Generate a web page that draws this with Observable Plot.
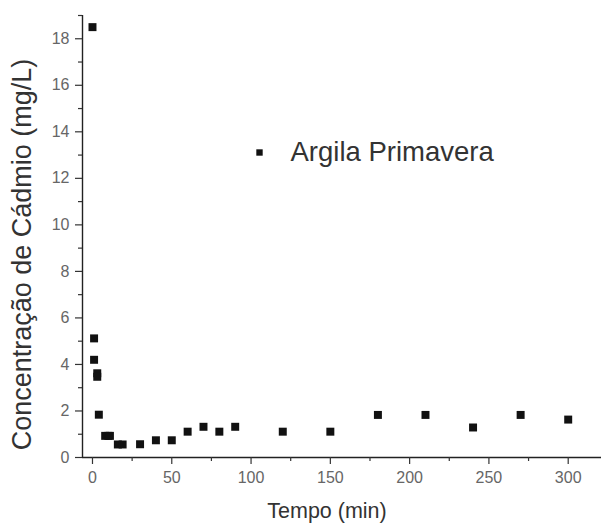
<!DOCTYPE html>
<html>
<head>
<meta charset="utf-8">
<script src="https://cdn.jsdelivr.net/npm/d3@7"></script>
<script src="https://cdn.jsdelivr.net/npm/@observablehq/plot@0.6"></script>
<style>
  html, body { margin: 0; padding: 0; background: #fff; }
  svg { display: block; }
</style>
</head>
<body>
<div id="chart"></div>
<script>
// Data
const tempo = [0, 1, 1, 3, 3, 4, 8, 10, 11, 16, 19, 30, 40, 50, 60, 70, 80, 90, 120, 150, 180, 210, 240, 270, 300];
const concentracao = [18.5, 5.12, 4.2, 3.62, 3.47, 1.84, 0.93, 0.93, 0.93, 0.56, 0.56, 0.57, 0.74, 0.74, 1.11, 1.32, 1.11, 1.32, 1.11, 1.11, 1.83, 1.83, 1.29, 1.83, 1.63];
const xMajorTicks = [0, 50, 100, 150, 200, 250, 300];
const xMinorTicks = [25, 75, 125, 175, 225, 275];
const yMajorTicks = [0, 2, 4, 6, 8, 10, 12, 14, 16, 18];
const yMinorTicks = [1, 3, 5, 7, 9, 11, 13, 15, 17, 19];
const xTitle = "Tempo (min)";
const yTitle = "Concentração de Cádmio (mg/L)";
const seriesName = "Argila Primavera";

const data = tempo.map((t, i) => ({t, c: concentracao[i]}));
const xMin = -6.3, xMax = 321, yMin = 0, yMax = 19;

const chart = Plot.plot({
  width: 601,
  height: 527,
  marginLeft: 82,
  marginRight: 0,
  marginTop: 15,
  marginBottom: 70,
  style: {fontFamily: "'Liberation Sans', Arial, sans-serif", background: "#fff"},
  x: {domain: [xMin, xMax]},
  y: {domain: [yMin, yMax]},
  marks: [
    // axis lines
    Plot.ruleY([yMin], {stroke: "#222", strokeWidth: 1.4}),
    Plot.ruleX([xMin], {stroke: "#222", strokeWidth: 1.4}),
    // x axis ticks & labels
    Plot.axisX({ticks: xMajorTicks, tickSize: 7, tickPadding: 7, fontSize: 16, color: "#666", stroke: "#333", strokeWidth: 1.2, label: null}),
    Plot.axisX({ticks: xMinorTicks, tickSize: 4, tickFormat: () => "", stroke: "#333", strokeWidth: 1.2, label: null}),
    // y axis ticks & labels
    Plot.axisY({ticks: yMajorTicks, tickSize: 7, tickPadding: 6, fontSize: 16, color: "#666", stroke: "#333", strokeWidth: 1.2, label: null}),
    Plot.axisY({ticks: yMinorTicks, tickSize: 4, tickFormat: () => "", stroke: "#333", strokeWidth: 1.2, label: null}),
    // axis titles
    Plot.text([xTitle], {frameAnchor: "bottom", lineAnchor: "middle", dx: -15, dy: 54, fontSize: 21.5, fill: "#333", text: d => d}),
    Plot.text([yTitle], {frameAnchor: "left", textAnchor: "middle", lineAnchor: "middle", dx: -60, dy: 18, rotate: -90, fontSize: 27, fill: "#333", text: d => d}),
    // data
    Plot.dot(data, {x: "t", y: "c", symbol: "square", r: 4.5, fill: "#111", stroke: null}),
    // legend
    Plot.dot([seriesName], {frameAnchor: "top-left", dx: 177, dy: 137, symbol: "square", r: 3.6, fill: "#111"}),
    Plot.text([seriesName], {frameAnchor: "top-left", lineAnchor: "middle", dx: 208, dy: 137, textAnchor: "start", fontSize: 27.5, fill: "#333", text: d => d})
  ]
});
document.getElementById("chart").appendChild(chart);
</script>
</body>
</html>
